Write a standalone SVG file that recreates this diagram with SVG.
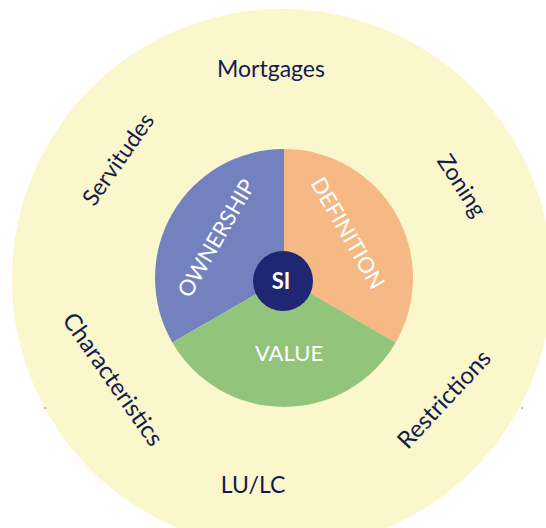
<svg xmlns="http://www.w3.org/2000/svg" width="546" height="528" viewBox="0 0 546 528">
  <style>
    .outer { font-family: "Lato", "Liberation Sans", sans-serif; font-size: 23px; fill: #141B4D; text-anchor: middle; }
    .big { font-size: 24px; }
    .inner { font-family: "Lato", "Liberation Sans", sans-serif; font-size: 22px; fill: #FFFFFF; text-anchor: middle; }
    .si { font-family: "Lato", "Liberation Sans", sans-serif; font-size: 22px; font-weight: bold; fill: #FFFFFF; text-anchor: middle; }
  </style>
  <rect width="546" height="528" fill="#FFFFFF"/>
  <g id="outer-ring">
    <circle cx="282" cy="279" r="270" fill="#FAF7CC"/>
    <rect x="44" y="407" width="2" height="2" fill="#B9BCC6"/>
    <rect x="521" y="407" width="2" height="2" fill="#C9C2A6"/>
  </g>
  <g id="outer-labels">
    <g id="mortgages"><text class="outer" x="271" y="77">Mortgages</text></g>
    <g id="lulc"><text class="outer" x="253" y="493">LU/LC</text></g>
    <g id="servitudes"><text class="outer" transform="translate(119,160) rotate(-55)" y="7">Servitudes</text></g>
    <g id="characteristics"><text class="outer big" transform="translate(112,380) rotate(55)" y="7">Characteristics</text></g>
    <g id="zoning"><text class="outer" transform="translate(461,186) rotate(57)" y="7">Zoning</text></g>
    <g id="restrictions"><text class="outer big" transform="translate(445,400) rotate(-47)" y="7">Restrictions</text></g>
  </g>
  <g id="ownership">
    <path d="M284,278 L284,149 A129,129 0 0,0 172.3,342.5 Z" fill="#7382BF"/>
    <text class="inner" transform="translate(216,238) rotate(-60)" y="8">OWNERSHIP</text>
  </g>
  <g id="definition">
    <path d="M284,278 L284,149 A129,129 0 0,1 395.7,342.5 Z" fill="#F6B884"/>
    <text class="inner" transform="translate(348,233) rotate(60)" y="8">DEFINITION</text>
  </g>
  <g id="value">
    <path d="M284,278 L172.3,342.5 A129,129 0 0,0 395.7,342.5 Z" fill="#93C47B"/>
    <text class="inner" x="289" y="361">VALUE</text>
  </g>
  <g id="si">
    <circle cx="283" cy="281" r="30" fill="#1F2674"/>
    <text class="si" x="281" y="289">SI</text>
  </g>
</svg>
